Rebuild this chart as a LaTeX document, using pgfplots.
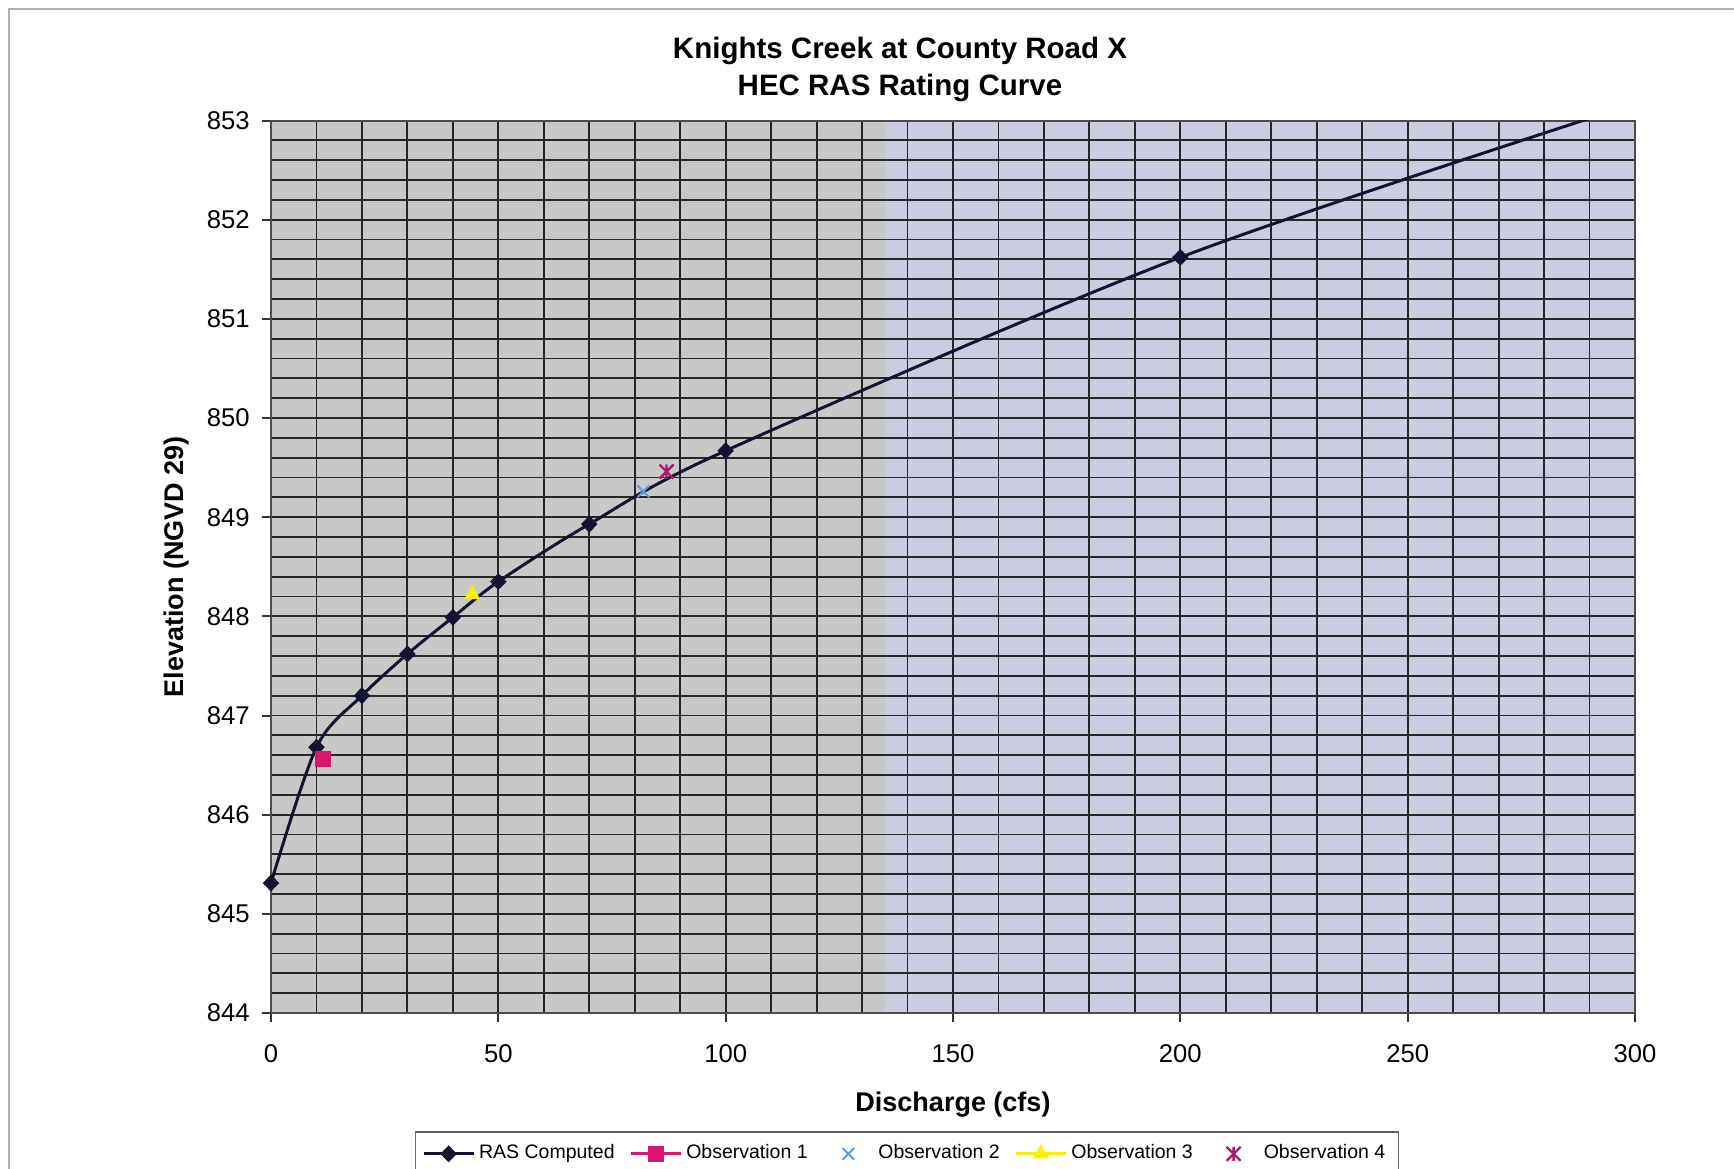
\documentclass[border=0pt]{standalone}
\usepackage{fontspec}
\setmainfont{Liberation Sans}
\usepackage{pgfplots}
\pgfplotsset{compat=1.18}
\definecolor{bgA}{RGB}{200,200,200}
\definecolor{bgB}{RGB}{202,204,223}
\definecolor{ras}{RGB}{20,20,50}
\definecolor{obsA}{RGB}{222,20,110}
\definecolor{obsB}{RGB}{90,155,225}
\definecolor{obsC}{RGB}{250,240,0}
\definecolor{obsD}{RGB}{160,30,110}
\pgfdeclareplotmark{xstar}{%
  \pgfpathmoveto{\pgfqpoint{-\pgfplotmarksize}{-\pgfplotmarksize}}%
  \pgfpathlineto{\pgfqpoint{\pgfplotmarksize}{\pgfplotmarksize}}%
  \pgfpathmoveto{\pgfqpoint{-\pgfplotmarksize}{\pgfplotmarksize}}%
  \pgfpathlineto{\pgfqpoint{\pgfplotmarksize}{-\pgfplotmarksize}}%
  \pgfpathmoveto{\pgfqpoint{0pt}{-\pgfplotmarksize}}%
  \pgfpathlineto{\pgfqpoint{0pt}{\pgfplotmarksize}}%
  \pgfusepathqstroke}
\pgfplotsset{markonly legend/.style={legend image code/.code={\draw[##1] plot coordinates {(7.5pt,0pt)}; \path (0pt,0pt) (15pt,0pt);}}}
\begin{document}
\begin{tikzpicture}
\draw[gray!60, line width=0.6pt] (2.7pt,0pt) -- (2.7pt,348pt) -- (520.2pt,348pt);
\node[font=\bfseries\fontsize{8.85}{11}\selectfont, anchor=base, inner sep=0pt] at (270pt,333pt) {Knights Creek at County Road X};
\node[font=\bfseries\fontsize{8.85}{11}\selectfont, anchor=base, inner sep=0pt] at (270pt,321.9pt) {HEC RAS Rating Curve};
\begin{axis}[
  set layers,
  at={(81.3pt,46.8pt)}, anchor=south west,
  scale only axis, width=409.2pt, height=267.75pt,
  xmin=0, xmax=300, ymin=844, ymax=853,
  xtick={0,50,...,300}, ytick={844,845,...,853},
  minor x tick num=4, minor y tick num=4,
  grid=both,
  major grid style={black!85, line width=0.55pt},
  minor grid style={black!85, line width=0.55pt},
  tick align=outside, major tick length=2.6pt, minor tick length=0pt,
  xtick pos=left, ytick pos=left,
  tick style={black!80, line width=0.6pt},
  axis line style={black!70, line width=0.6pt},
  ticklabel style={font=\fontsize{7.7}{9}\selectfont},
  /pgf/number format/assume math mode=true,
  /pgf/number format/1000 sep={},
  xticklabel style={anchor=north, inner sep=0pt, yshift=-6.7pt},
  yticklabel style={anchor=east, inner sep=0pt, xshift=-3.6pt},
  xlabel={Discharge (cfs)},
  ylabel={Elevation (NGVD 29)},
  label style={font=\bfseries\fontsize{8.1}{10}\selectfont},
  xlabel style={at={(axis description cs:0.5,-0.1100)}, anchor=base, inner sep=0pt},
  ylabel style={at={(axis description cs:-0.0638,0.5)}, anchor=base, inner sep=0pt},
  legend columns=5,
  legend cell align=left,
  legend image code/.code={\draw[mark repeat=2,mark phase=2,#1] plot coordinates {(0pt,0pt) (7.5pt,0pt) (15pt,0pt)};},
  legend style={at={(axis description cs:0.4663,-0.1325)}, anchor=north, draw=black!60, fill=white,
    font=\fontsize{5.85}{7}\selectfont, inner xsep=2pt, inner ysep=1.7pt,
    /tikz/every even column/.append style={column sep=2.4pt},
    /tikz/every odd column/.append style={column sep=-0.8pt}},
]
\begin{pgfonlayer}{axis background}
\fill[bgB] (axis cs:0,844) rectangle (axis cs:300,853);
\fill[bgA] (axis cs:0,844) rectangle (axis cs:135,853);
\end{pgfonlayer}
\addplot[color=ras, line width=0.9pt, smooth, mark=diamond*, mark size=1.9pt,
  mark options={xscale=1.3, fill=ras, draw=ras}]
  coordinates {(0,845.31) (10,846.68) (20,847.20) (30,847.62) (40,847.99) (50,848.35) (70,848.93) (100,849.67) (200,851.62) (300,853.17)};
\addlegendentry{RAS Computed}
\addplot[color=obsA, line width=0.9pt, mark=square*, mark size=1.9pt] coordinates {(11.5,846.56)};
\addlegendentry{Observation 1}
\addplot[color=obsB, only marks, mark=x, mark size=2.5pt, line width=0.6pt, markonly legend] coordinates {(81.9,849.26)};
\addlegendentry{Observation 2}
\addplot[color=obsC, line width=0.9pt, mark=triangle*, mark size=1.9pt] coordinates {(44.25,848.22)};
\addlegendentry{Observation 3}
\addplot[color=obsD, only marks, mark=xstar, mark size=2.1pt, line width=0.7pt, markonly legend] coordinates {(87.0,849.46)};
\addlegendentry{Observation 4}
\end{axis}
\pgfresetboundingbox
\useasboundingbox (0pt,0pt) rectangle (520.2pt,350.7pt);
\end{tikzpicture}
\end{document}
